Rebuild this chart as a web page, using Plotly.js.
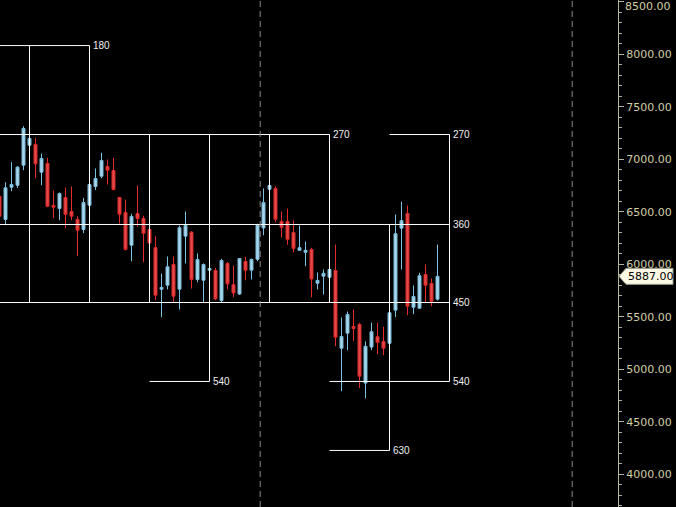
<!DOCTYPE html>
<html>
<head>
<meta charset="utf-8">
<script src="https://cdn.plot.ly/plotly-3.0.1.min.js"></script>
<style>html,body{margin:0;padding:0;background:#000;}#chart{width:676px;height:507px;}</style>
</head>
<body>
<div id="chart"></div>
<script>
// OHLC values, one per trading session (first one is cut by the left edge)
const openVals  = [6650,6429,6736,6755,6946,7136,7143,6879,6962,6562,6533,6638,6505,6429,6333,6565,6743,6841,6933,6895,6638,6495,6184,6486,6438,6333,6160,5765,5803,6000,5765,6270,6308,5857,5850,5946,5943,5657,6010,5807,5719,6029,5946,6050,6348,6717,6724,6410,6410,6305,6136,6117,6143,5822,5889,5879,5943,5203,5346,5410,5429,4871,5214,5312,5267,5250,5565,6346,6486,5593,5584,5905,5819,5670];
const highVals  = [6714,6784,6974,6936,7317,7210,7207,7057,7016,6705,6686,6733,6743,6460,6635,6771,6914,7064,7000,7016,6645,6619,6483,6752,6464,6338,6269,5914,6076,6076,6371,6505,6317,6105,6010,5971,5969,6054,6024,5990,6062,6074,6057,6388,6724,6757,6745,6505,6533,6419,6371,6219,6159,5924,5952,5957,6190,5495,5552,5571,5445,5267,5446,5446,5408,5548,6476,6598,6562,5800,5921,6000,5867,6190];
const lowVals   = [6381,6374,6698,6730,6898,7127,6822,6755,6546,6441,6422,6346,6422,6079,6298,6555,6708,6822,6762,6705,6390,6133,6031,6359,6022,6195,5659,5498,5762,5641,5571,6010,5771,5831,5635,5938,5660,5641,5762,5689,5710,5850,5857,6031,6278,6710,6403,6257,6188,6116,6130,5984,5688,5762,5714,5871,5222,4793,5184,5270,4822,4726,5184,5145,5135,5243,5498,5952,5517,5527,5576,5638,5603,5657];
const closeVals = [6460,6730,6762,6927,7295,7200,6959,7010,6555,6546,6676,6479,6460,6327,6590,6762,6819,6990,6898,6714,6479,6143,6457,6438,6298,6205,5708,5781,5978,5698,6350,6371,5857,6048,6000,5962,5673,6038,5816,5729,6057,5946,6048,6381,6589,6752,6430,6355,6240,6154,6160,6135,5862,5848,5916,5952,5308,5314,5524,5390,4936,5221,5360,5259,5203,5540,6293,6417,5603,5695,5893,5803,5650,5887];

// Gann levels (degree label -> price)
const gannDegrees = [180, 270, 360, 450, 540, 630];
const gannPrices  = [8085, 7238, 6381, 5638, 4886, 4229];

// horizontal segments: degree, from session, to session
const hSegDegree = [180, 270, 270, 360, 450, 540, 540, 630];
const hSegFrom   = [-3, -3, 64, -3, -3, 24, 54, 54];
const hSegTo     = [14, 54, 74, 74, 74, 34, 74, 64];

// vertical segments: at session, from degree, to degree
const vSegAt     = [4, 14, 24, 34, 44, 54, 64, 74];
const vSegTop    = [180, 180, 270, 270, 270, 270, 360, 270];
const vSegBottom = [450, 450, 450, 540, 450, 450, 630, 540];

// dashed time markers (session position)
const dashedAt = [42.45, 94.45];

// price axis tick at the very top edge
const topTickLabel = 8500;

const lastPrice = closeVals[closeVals.length - 1];

const xIdx = openVals.map((_, i) => i - 1);
const priceOf = d => gannPrices[gannDegrees.indexOf(d)];

const trace = {
  type: 'candlestick',
  x: xIdx,
  open: openVals, high: highVals, low: lowVals, close: closeVals,
  increasing: {line: {color: '#7fc0e0', width: 1}, fillcolor: '#a9d6ea'},
  decreasing: {line: {color: '#e42a2a', width: 1}, fillcolor: '#e04a4a'},
  whiskerwidth: 0,
  hoverinfo: 'skip',
  showlegend: false
};

const shapes = [];
const annotations = [];
const lineStyle = {color: '#ffffff', width: 1};
const axisFont = {family: 'DejaVu Sans, sans-serif', size: 11, color: '#d2cea6'};

hSegDegree.forEach((d, i) => {
  shapes.push({type: 'line', xref: 'x', yref: 'y', x0: hSegFrom[i], x1: hSegTo[i],
    y0: priceOf(d), y1: priceOf(d), line: lineStyle, layer: 'above'});
  annotations.push({xref: 'x', yref: 'y', x: hSegTo[i], y: priceOf(d), text: String(d),
    showarrow: false, xanchor: 'left', yanchor: 'middle', xshift: 1,
    font: {family: 'Liberation Sans, Arial, sans-serif', size: 10, color: '#f0f0f0'}});
});
vSegAt.forEach((x, i) => {
  shapes.push({type: 'line', xref: 'x', yref: 'y', x0: x, x1: x,
    y0: priceOf(vSegTop[i]), y1: priceOf(vSegBottom[i]), line: lineStyle, layer: 'above'});
});
dashedAt.forEach(x => {
  shapes.push({type: 'line', xref: 'x', yref: 'paper', x0: x, x1: x, y0: 0, y1: 1,
    line: {color: '#8a8a8a', width: 1, dash: '6px,4px'}, layer: 'above'});
});
// last price marker box
shapes.push({type: 'path', xref: 'paper', yref: 'y', xsizemode: 'pixel', ysizemode: 'pixel',
  xanchor: 1, yanchor: lastPrice,
  path: 'M 1,0 L 8,-8 L 55,-8 L 55,8 L 8,8 Z',
  fillcolor: '#fbf8e4', line: {color: '#9a9a8a', width: 1}, layer: 'above'});
annotations.push({xref: 'paper', yref: 'y', x: 1, y: lastPrice, text: lastPrice.toFixed(2),
  showarrow: false, xanchor: 'left', yanchor: 'middle', xshift: 8,
  font: {family: 'DejaVu Sans, sans-serif', size: 11, color: '#000000'}});
// top tick label, kept fully inside the picture at the top edge
annotations.push({xref: 'paper', yref: 'paper', x: 1, y: 1, text: topTickLabel.toFixed(2),
  showarrow: false, xanchor: 'left', yanchor: 'top', xshift: 6, yshift: 1,
  borderpad: 0, font: axisFont});

const layout = {
  width: 676, height: 507,
  margin: {l: 0, r: 58, t: 0, b: 0, pad: 0},
  paper_bgcolor: '#000000', plot_bgcolor: '#000000',
  showlegend: false,
  xaxis: {range: [-0.9167, 102.0833], visible: false, rangeslider: {visible: false}, fixedrange: true},
  yaxis: {
    range: [3690.4, 8519.0], side: 'right', showgrid: false, zeroline: false,
    showline: true, linecolor: '#b4b49c', linewidth: 1,
    ticks: 'outside', ticklen: 5, tickcolor: '#b4b49c', tickwidth: 1,
    dtick: 500, tick0: 0, tickformat: '.2f',
    tickfont: axisFont,
    minor: {dtick: 100, ticks: 'outside', ticklen: 3, tickcolor: '#b4b49c', showgrid: false},
    fixedrange: true
  },
  shapes: shapes,
  annotations: annotations
};

Plotly.newPlot('chart', [trace], layout, {displayModeBar: false, staticPlot: true});
</script>
</body>
</html>
